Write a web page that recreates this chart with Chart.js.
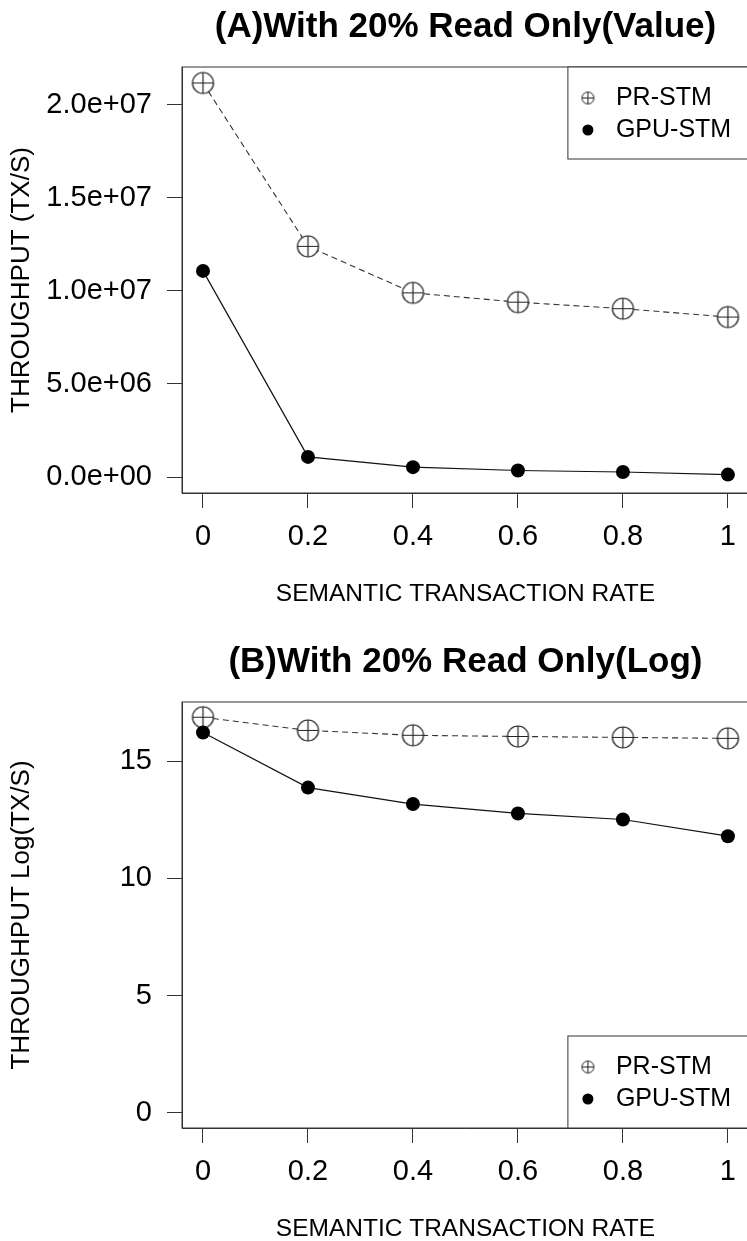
<!DOCTYPE html>
<html>
<head>
<meta charset="utf-8">
<script src="https://cdn.jsdelivr.net/npm/chart.js@4.4.1/dist/chart.umd.min.js"></script>
<style>
  html, body { margin: 0; padding: 0; background: #fff; overflow: hidden; width: 747px; height: 1241px; }
  canvas { position: absolute; left: 0; }
  #chartA { top: 0; }
  #chartB { top: 635px; }
</style>
</head>
<body>
<canvas id="chartA" width="760" height="620"></canvas>
<canvas id="chartB" width="760" height="620"></canvas>
<script>
// data
const rates = [0, 0.2, 0.4, 0.6, 0.8, 1];
const prValue  = [21.18e6, 12.4e6, 9.9e6, 9.4e6, 9.05e6, 8.6e6];
const gpuValue = [11.08e6, 1.08e6, 0.53e6, 0.35e6, 0.27e6, 0.13e6];
const prLog  = [16.87, 16.31, 16.10, 16.05, 16.01, 15.97];
const gpuLog = [16.22, 13.87, 13.17, 12.77, 12.51, 11.80];
const xTicks = [0, 0.2, 0.4, 0.6, 0.8, 1];
const yTicksValue = [0, 5e6, 10e6, 15e6, 20e6];
const yTicksLog = [0, 5, 10, 15];

const FONT = "'Liberation Sans', Arial, sans-serif";

function circlePlus(r, lw) {
    const c = document.createElement('canvas');
    const s = Math.ceil(2 * r + lw + 2);
    c.width = s; c.height = s;
    const g = c.getContext('2d');
    const m = s / 2;
    g.fillStyle = '#fff';
    g.beginPath(); g.arc(m, m, r, 0, 2 * Math.PI); g.fill();
    g.strokeStyle = '#222'; g.lineWidth = lw; g.stroke();
    g.beginPath();
    g.moveTo(m - r, m); g.lineTo(m + r, m);
    g.moveTo(m, m - r); g.lineTo(m, m + r);
    g.stroke();
    return c;
}
const prMark = circlePlus(10.5, 1.2);
const prMarkSmall = circlePlus(6, 1);

function sci(v) {
    const [m, e] = v.toExponential(1).split('e');
    return m + 'e' + e[0] + e.slice(1).padStart(2, '0');
}

// box round the plot + main title
const framePlugin = {
    id: 'frame',
    afterDraw(chart, args, opts) {
        const { ctx, chartArea: a } = chart;
        ctx.save();
        ctx.strokeStyle = '#333'; ctx.lineWidth = 1;
        ctx.strokeRect(a.left, a.top, a.right - a.left, a.bottom - a.top);
        ctx.fillStyle = '#000';
        ctx.font = 'bold 35px ' + FONT;
        ctx.textAlign = 'center'; ctx.textBaseline = 'middle';
        ctx.fillText(opts.text, (a.left + a.right) / 2, 27);
        ctx.restore();
    }
};

// R style legend box
const boxLegend = {
    id: 'boxLegend',
    afterDraw(chart, args, opts) {
        const { ctx, chartArea: a } = chart;
        const w = 181, h = 92;
        const left = a.right - w;
        const top = opts.where === 'top' ? a.top : a.bottom - h;
        ctx.save();
        ctx.fillStyle = '#fff';
        ctx.fillRect(left, top, w, h);
        ctx.strokeStyle = '#333'; ctx.lineWidth = 1;
        ctx.strokeRect(left, top, w + 2, h);
        ctx.drawImage(prMarkSmall, left + 20 - prMarkSmall.width / 2, top + 31 - prMarkSmall.height / 2);
        ctx.fillStyle = '#000';
        ctx.beginPath(); ctx.arc(left + 20, top + 63, 5.5, 0, 2 * Math.PI); ctx.fill();
        ctx.font = '25px ' + FONT;
        ctx.textAlign = 'left'; ctx.textBaseline = 'middle';
        chart.data.datasets.forEach((d, i) => {
            ctx.fillText(d.label, left + 48, top + 31 + 32 * i);
        });
        ctx.restore();
    }
};

function makeChart(id, title, pr, gpu, yMin, yMax, yTicks, yTitle, fmt, where) {
    return new Chart(document.getElementById(id), {
        type: 'scatter',
        data: {
            datasets: [
                { label: 'PR-STM', data: rates.map((x, i) => ({ x, y: pr[i] })), showLine: true,
                  borderColor: '#333', borderWidth: 1.1, borderDash: [6, 4],
                  pointStyle: prMark, pointRadius: 10, order: 1 },
                { label: 'GPU-STM', data: rates.map((x, i) => ({ x, y: gpu[i] })), showLine: true,
                  borderColor: '#111', borderWidth: 1.2,
                  pointStyle: 'circle', pointRadius: 7, pointBackgroundColor: '#000', pointBorderWidth: 0, order: 0 }
            ]
        },
        options: {
            responsive: false, animation: false,
            layout: { padding: { top: 67, right: 8, bottom: 0, left: 0 } },
            plugins: { legend: { display: false }, tooltip: { enabled: false },
                       frame: { text: title }, boxLegend: { where } },
            scales: {
                x: {
                    type: 'linear', min: -0.04, max: 1.04,
                    afterBuildTicks: s => { s.ticks = xTicks.map(v => ({ value: v })); },
                    afterFit: s => { s.height = 127; },
                    ticks: { color: '#000', font: { family: FONT, size: 29 }, padding: 12, maxRotation: 0,
                             callback: v => String(v) },
                    grid: { drawOnChartArea: false, drawTicks: true, tickLength: 15, color: '#333' },
                    border: { display: true, color: '#333' },
                    title: { display: true, text: 'SEMANTIC TRANSACTION RATE', color: '#000',
                             font: { family: FONT, size: 24.5 }, padding: { top: 0, bottom: 11 } }
                },
                y: {
                    min: yMin, max: yMax,
                    afterBuildTicks: s => { s.ticks = yTicks.map(v => ({ value: v })); },
                    afterFit: s => { s.width = 182; },
                    ticks: { color: '#000', font: { family: FONT, size: 29 }, padding: 15, callback: fmt },
                    grid: { drawOnChartArea: false, drawTicks: true, tickLength: 15, color: '#333' },
                    border: { display: true, color: '#333' },
                    title: { display: true, text: yTitle, color: '#000',
                             font: { family: FONT, size: 26 }, padding: { top: 6, bottom: 0 } }
                }
            }
        },
        plugins: [framePlugin, boxLegend]
    });
}

makeChart('chartA', '(A)With 20% Read Only(Value)', prValue, gpuValue,
          -0.86e6, 22.04e6, yTicksValue, 'THROUGHPUT (TX/S)', v => sci(v), 'top');
makeChart('chartB', '(B)With 20% Read Only(Log)', prLog, gpuLog,
          -0.64, 17.52, yTicksLog, 'THROUGHPUT Log(TX/S)', v => String(v), 'bottom');
</script>
</body>
</html>
